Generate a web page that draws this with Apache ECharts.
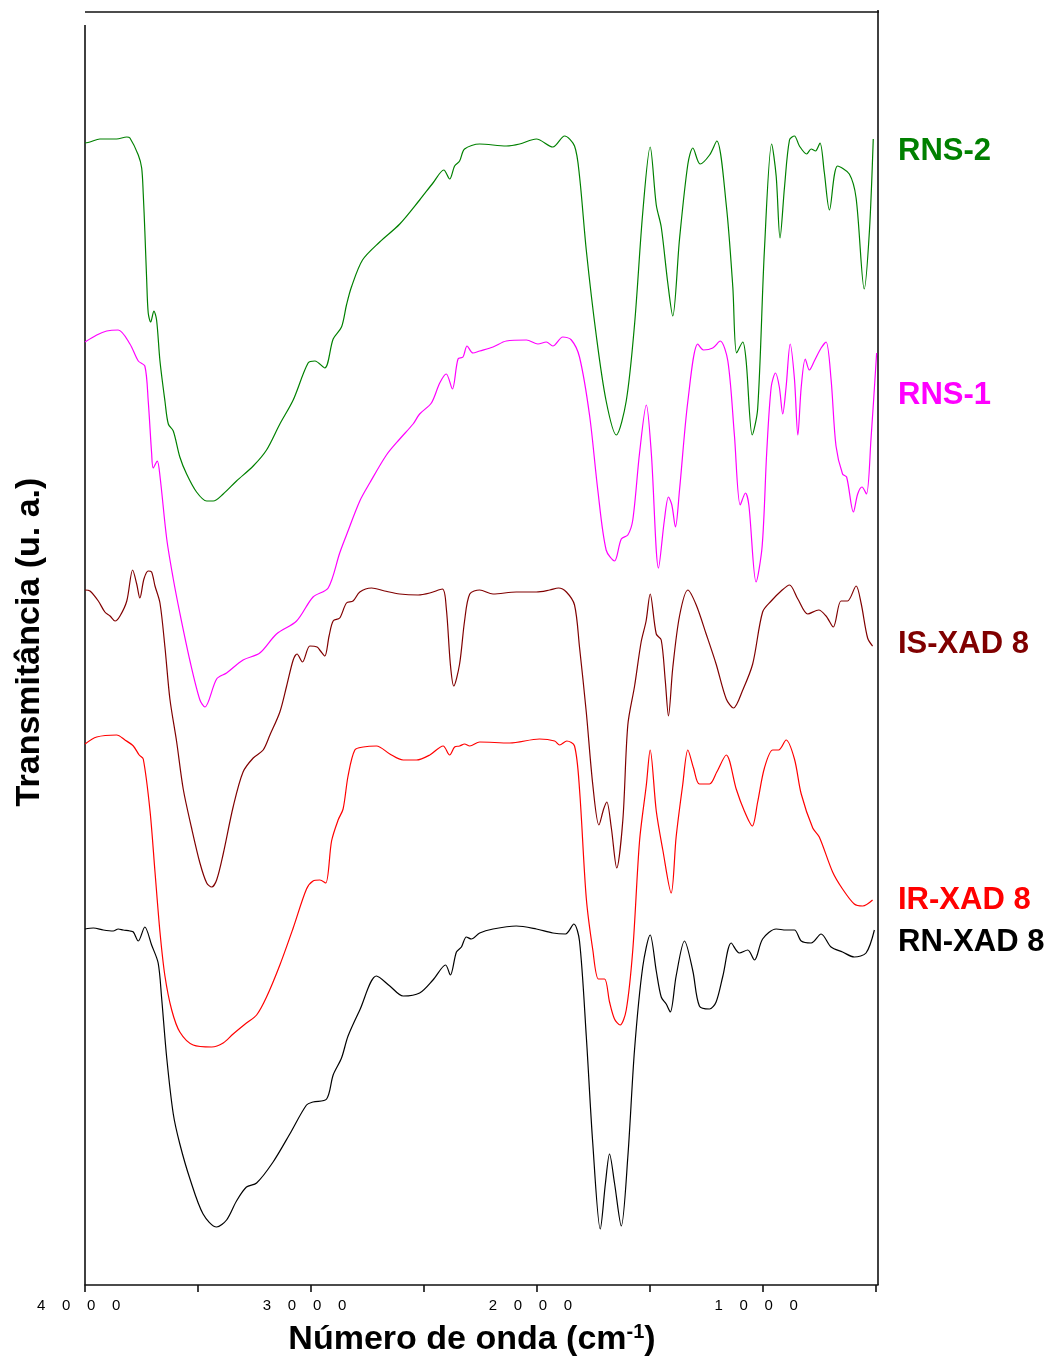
<!DOCTYPE html>
<html>
<head>
<meta charset="utf-8">
<script src="https://cdn.jsdelivr.net/npm/echarts@6/dist/echarts.min.js"></script>
<style>
html,body{margin:0;padding:0;background:#fff;}
#chart{width:1051px;height:1361px;}
</style>
</head>
<body>
<div id="chart"></div>
<script>
// Wavenumbers (cm-1) and transmittance (arbitrary units, offset traces)
const rns2Wn = [4000,3978,3934,3860,3815,3801,3764,3749,3742,3735,3727,3720,3709,3695,3683,3668,3646,3631,3609,3580,3550,3506,3461,3432,3388,3329,3255,3196,3137,3078,3012,2982,2938,2901,2864,2842,2820,2771,2695,2606,2518,2459,2411,2385,2363,2341,2319,2252,2134,2075,2001,1928,1876,1832,1810,1780,1736,1692,1647,1603,1566,1530,1497,1470,1448,1419,1397,1367,1330,1308,1276,1234,1202,1160,1131,1114,1087,1072,1045,1021,991,959,939,922,902,880,858,836,804,784,765,745,726,703,667,615,585,549,526,509];
const rns2T  = [1142,1143,1146,1146,1148,1147,1130,1117,1091,1054,1006,972,963,974,965,924,884,861,854,828,811,793,784,784,791,804,819,835,861,885,922,924,917,946,958,980,998,1025,1043,1061,1085,1102,1115,1106,1119,1124,1136,1141,1139,1141,1146,1138,1149,1139,1109,1035,950,884,850,884,961,1072,1138,1080,1058,1002,969,1046,1121,1137,1121,1130,1144,1080,998,932,943,924,850,876,1035,1141,1109,1047,1098,1145,1149,1139,1131,1136,1134,1142,1113,1075,1119,1111,1087,996,1054,1146];

const rns1Wn = [4000,3948,3904,3853,3801,3764,3735,3720,3705,3698,3680,3668,3638,3609,3580,3535,3491,3469,3417,3373,3300,3226,3152,3063,2990,2923,2872,2842,2783,2739,2665,2606,2547,2518,2466,2429,2400,2373,2348,2326,2308,2282,2252,2193,2134,2045,1994,1957,1928,1884,1846,1810,1765,1729,1692,1655,1625,1596,1574,1544,1514,1492,1460,1434,1416,1401,1385,1367,1330,1286,1261,1220,1187,1153,1124,1098,1075,1060,1028,1001,981,961,942,925,910,895,877,858,843,828,810,792,770,740,718,696,674,645,627,597,578,559,539,519,494];
const rns1T  = [943,950,954,955,941,924,919,884,832,817,824,809,746,706,672,624,585,578,606,612,625,632,651,664,688,697,732,750,784,802,830,846,861,871,882,902,911,896,926,928,939,932,934,938,944,945,941,943,939,948,945,928,869,795,735,724,746,750,765,832,880,832,717,765,788,780,758,795,884,941,935,937,944,924,850,780,792,780,703,739,832,898,912,898,871,898,941,906,850,898,926,915,924,937,943,906,839,811,808,773,791,798,791,846,932];

const isxadWn = [4000,3978,3941,3912,3889,3867,3845,3815,3789,3771,3757,3739,3720,3705,3690,3668,3646,3624,3594,3565,3528,3491,3461,3439,3417,3388,3344,3300,3255,3211,3181,3137,3107,3078,3061,3037,3004,2972,2957,2938,2919,2901,2872,2842,2813,2783,2731,2673,2606,2525,2473,2417,2400,2382,2367,2341,2319,2296,2252,2193,2090,2001,1942,1903,1868,1832,1810,1780,1751,1724,1703,1689,1669,1645,1618,1596,1566,1537,1515,1497,1470,1448,1430,1416,1397,1367,1330,1293,1249,1205,1160,1128,1087,1043,999,961,917,880,843,799,751,718,686,652,623,585,563,534,512];
const isxadT  = [695,694,684,673,669,664,669,684,715,701,687,706,714,713,699,682,638,586,543,496,457,422,402,398,405,431,478,513,527,535,550,573,599,625,631,623,639,638,634,629,649,664,667,682,684,693,697,694,691,690,692,696,677,621,599,621,664,691,695,691,693,693,695,697,693,680,638,573,500,460,476,483,457,417,465,560,599,643,664,691,651,645,604,569,617,669,695,680,651,621,586,577,595,621,673,684,694,700,686,671,675,669,658,684,684,699,682,647,639];

const irxadWn = [4000,3948,3860,3823,3786,3760,3742,3712,3690,3668,3646,3616,3580,3521,3439,3388,3344,3285,3240,3196,3137,3078,3019,2990,2960,2934,2908,2879,2857,2835,2805,2768,2709,2650,2591,2532,2473,2414,2385,2363,2341,2319,2296,2252,2119,1987,1920,1898,1866,1832,1810,1780,1751,1726,1699,1677,1655,1630,1603,1574,1544,1514,1497,1470,1441,1404,1382,1353,1330,1305,1279,1234,1202,1160,1116,1080,1045,1021,991,954,928,895,858,828,777,748,689,645,593,556,512];
const irxadT  = [541,548,550,545,539,530,526,474,413,353,309,275,253,240,238,242,251,262,270,288,320,357,396,404,405,402,444,465,476,509,535,538,539,531,525,525,530,539,530,538,539,541,539,543,542,546,544,540,544,539,496,387,335,306,306,283,266,260,275,335,444,500,535,474,435,392,448,500,535,517,501,501,513,530,496,474,459,483,517,535,535,545,526,491,457,448,413,396,381,379,385];

const rnxadWn = [4000,3963,3919,3875,3853,3831,3801,3786,3764,3735,3705,3676,3661,3638,3609,3580,3535,3477,3417,3373,3329,3285,3240,3167,3093,3019,2990,2930,2901,2864,2835,2783,2709,2650,2591,2518,2459,2403,2382,2355,2333,2311,2289,2252,2193,2090,2001,1928,1872,1835,1810,1780,1751,1718,1695,1677,1655,1625,1596,1566,1530,1497,1470,1448,1426,1408,1382,1345,1308,1279,1234,1205,1175,1138,1102,1065,1035,999,939,895,858,828,784,740,696,645,593,541,504];
const rnxadT  = [356,357,355,354,356,355,354,353,344,358,340,322,288,227,171,141,106,71,58,65,84,98,102,123,151,180,183,186,210,227,249,275,309,299,289,292,305,320,310,333,338,348,346,352,356,359,356,352,351,361,344,249,141,56,102,131,102,59,128,236,318,350,314,288,281,273,309,344,314,279,276,283,309,342,332,335,325,346,356,355,355,344,342,351,338,333,328,332,355];

const xMajorTicks = [1000, 2000, 3000, 4000];
const xAllTicks = [500, 1000, 1500, 2000, 2500, 3000, 3500, 4000];
const seriesNames = ['RNS-2', 'RNS-1', 'IS-XAD 8', 'IR-XAD 8', 'RN-XAD 8'];

function pairs(xs, ys) { return xs.map((x, i) => [x, ys[i]]); }

const colors = ['#008000', '#ff00ff', '#800000', '#ff0000', '#000000'];
const dataSets = [pairs(rns2Wn, rns2T), pairs(rns1Wn, rns1T), pairs(isxadWn, isxadT), pairs(irxadWn, irxadT), pairs(rnxadWn, rnxadT)];
const labelY = [151, 395, 644, 900, 942];

const chart = echarts.init(document.getElementById('chart'), null, {renderer: 'canvas'});
const FONT = '"Liberation Sans", Arial, Helvetica, sans-serif';

const graphics = [
  {type: 'line', shape: {x1: 85, y1: 12, x2: 879, y2: 12}, style: {stroke: '#111', lineWidth: 1.6}, silent: true},
  {type: 'line', shape: {x1: 85, y1: 25, x2: 85, y2: 1285}, style: {stroke: '#111', lineWidth: 1.6}, silent: true},
  {type: 'line', shape: {x1: 878, y1: 10, x2: 878, y2: 1285}, style: {stroke: '#111', lineWidth: 1.6}, silent: true},
  {type: 'text', x: 30, y: 642, rotation: Math.PI / 2,
    style: {text: 'Transmitância (u. a.)', font: 'bold 34px ' + FONT, fill: '#000', align: 'center', verticalAlign: 'middle'}},
  {type: 'text', x: 472, y: 1340,
    style: {text: 'Número de onda (cm{sup|-1})', font: 'bold 34px ' + FONT, fill: '#000', align: 'center', verticalAlign: 'middle',
      rich: {sup: {font: 'bold 20px ' + FONT, fill: '#000', padding: [0, 0, 16, 0]}}}}
];
seriesNames.forEach((n, i) => {
  graphics.push({type: 'text', x: 898, y: labelY[i],
    style: {text: n, font: 'bold 31px ' + FONT, fill: colors[i], align: 'left', verticalAlign: 'middle'}});
});

chart.setOption({
  animation: false,
  backgroundColor: '#fff',
  grid: {left: 85, right: 173, top: 12, bottom: 76, containLabel: false},
  xAxis: {
    type: 'value', min: 488, max: 4000, inverse: true,
    axisLine: {show: true, lineStyle: {color: '#111', width: 1.6}},
    axisTick: {show: true, inside: false, length: 7, lineStyle: {color: '#111', width: 1.6}, customValues: xAllTicks},
    axisLabel: {show: true, margin: 13, fontSize: 15, fontFamily: FONT, color: '#000', customValues: xMajorTicks,
      formatter: v => String(v).split('').join('    ') + '   '},
    splitLine: {show: false}
  },
  yAxis: {
    type: 'value', min: 0, max: 1273,
    axisLine: {show: false}, axisTick: {show: false}, axisLabel: {show: false}, splitLine: {show: false}
  },
  series: dataSets.map((d, i) => ({
    name: seriesNames[i], type: 'line', data: d, showSymbol: false, smooth: 0.3,
    lineStyle: {color: colors[i], width: 1.2}, itemStyle: {color: colors[i]}, clip: true
  })),
  graphic: graphics
});
</script>
</body>
</html>
